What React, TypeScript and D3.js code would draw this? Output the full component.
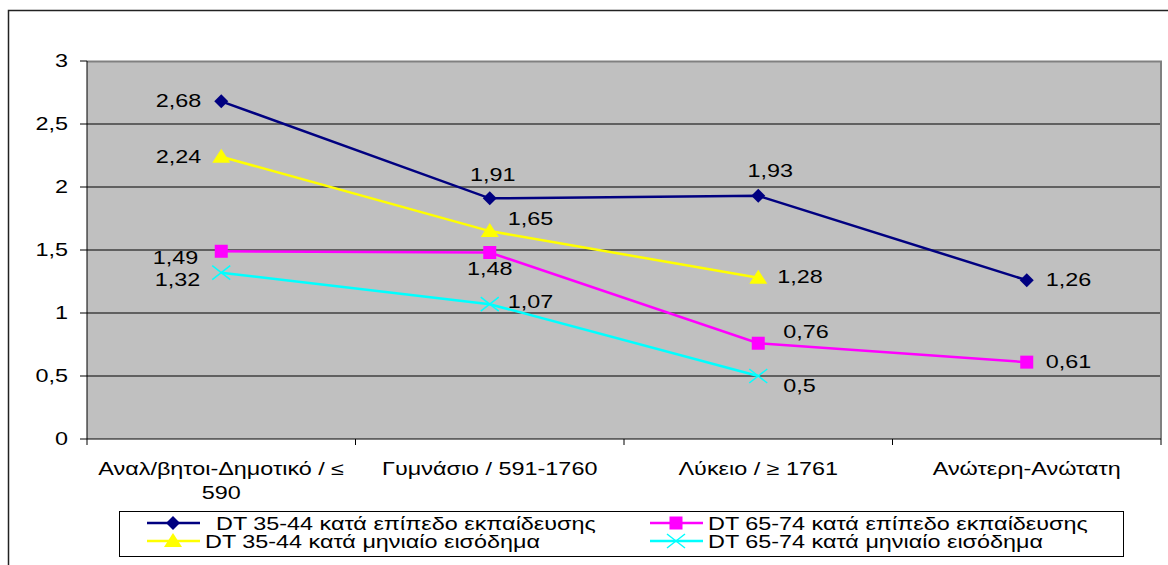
import React, { useEffect, useRef } from "react";
import * as d3 from "d3";

const categories = [
  ["Αναλ/βητοι-Δημοτικό / ≤", "590"],
  ["Γυμνάσιο / 591-1760"],
  ["Λύκειο / ≥ 1761"],
  ["Ανώτερη-Ανώτατη"],
];

const eduYoung = [2.68, 1.91, 1.93, 1.26];
const incYoung = [2.24, 1.65, 1.28, null];
const eduOld = [1.49, 1.48, 0.76, 0.61];
const incOld = [1.32, 1.07, 0.5, null];

const seriesNames = [
  "DT 35-44 κατά επίπεδο εκπαίδευσης",
  "DT 35-44 κατά μηνιαίο εισόδημα",
  "DT 65-74 κατά επίπεδο εκπαίδευσης",
  "DT 65-74 κατά μηνιαίο εισόδημα",
];

const yTicks = [0, 0.5, 1, 1.5, 2, 2.5, 3];

// label placement per point: [anchor, dx, dy]
type Place = [string, number, number];

const series = [
  {
    name: seriesNames[0], values: eduYoung, color: "#000080", marker: "diamond",
    places: [["end", -20, 6], ["middle", 3, -17], ["middle", 12, -19], ["start", 19, 6]] as Place[],
  },
  {
    name: seriesNames[1], values: incYoung, color: "#FFFF00", marker: "triangle",
    places: [["end", -20, 6], ["start", 18, -6], ["start", 19, 5], null] as (Place | null)[],
  },
  {
    name: seriesNames[2], values: eduOld, color: "#FF00FF", marker: "square",
    places: [["end", -23, 13], ["middle", 0, 22], ["start", 25, -5], ["start", 19, 6]] as Place[],
  },
  {
    name: seriesNames[3], values: incOld, color: "#00FFFF", marker: "x",
    places: [["end", -21, 13], ["start", 18, 4], ["start", 25, 16], null] as (Place | null)[],
  },
];

const fmt = (v: number) => String(v).replace(".", ",");
const FONT = "'Liberation Sans', Arial, sans-serif";
const STRETCH = 1.3;

function addText(g: any, x: number, y: number, txt: string, anchor = "start") {
  return g.append("text")
    .attr("transform", `translate(${x},${y}) scale(${STRETCH},1)`)
    .attr("text-anchor", anchor)
    .attr("font-family", FONT)
    .attr("font-size", 18)
    .attr("fill", "#000")
    .text(txt);
}

function drawMarker(g: any, type: string, x: number, y: number, color: string) {
  if (type === "diamond") {
    g.append("path").attr("d", `M${x},${y - 7}L${x + 7},${y}L${x},${y + 7}L${x - 7},${y}Z`).attr("fill", color);
  } else if (type === "square") {
    g.append("rect").attr("x", x - 6.5).attr("y", y - 6.5).attr("width", 13).attr("height", 13).attr("fill", color);
  } else if (type === "triangle") {
    g.append("path").attr("d", `M${x},${y - 8}L${x + 9},${y + 6}L${x - 9},${y + 6}Z`).attr("fill", color);
  } else {
    g.append("path").attr("d", `M${x - 9},${y - 7}L${x + 9},${y + 7}M${x - 9},${y + 7}L${x + 9},${y - 7}`)
      .attr("stroke", color).attr("stroke-width", 1.5).attr("fill", "none");
  }
}

export default function App() {
  const ref = useRef<SVGSVGElement>(null);

  useEffect(() => {
    const svg = d3.select(ref.current);
    svg.selectAll("*").remove();

    const left = 87, right = 1161, top = 61, bottom = 439;

    svg.append("rect").attr("width", 1168).attr("height", 565).attr("fill", "#fff");
    svg.append("rect").attr("x", 8.5).attr("y", 10.5).attr("width", 1200).attr("height", 600)
      .attr("fill", "none").attr("stroke", "#222").attr("stroke-width", 1.5);

    const x = d3.scaleBand().domain(categories.map((_, i) => String(i))).range([left, right]);
    const y = d3.scaleLinear().domain([0, 3]).range([bottom, top]);
    const cx = (i: number) => (x(String(i)) as number) + x.bandwidth() / 2;

    svg.append("rect").attr("x", left).attr("y", top).attr("width", right - left).attr("height", bottom - top)
      .attr("fill", "#C0C0C0");

    // grid
    svg.append("g").selectAll("line").data(yTicks.slice(1, -1)).join("line")
      .attr("x1", left).attr("x2", right).attr("y1", (d) => y(d)).attr("y2", (d) => y(d))
      .attr("stroke", "#000").attr("stroke-width", 1);
    // top and right border grey
    svg.append("path").attr("d", `M${left},${top + 0.5}H${right}V${bottom}`)
      .attr("fill", "none").attr("stroke", "#808080").attr("stroke-width", 2);

    // y axis
    const yAxis = svg.append("g");
    yAxis.append("line").attr("x1", left).attr("x2", left).attr("y1", top).attr("y2", bottom).attr("stroke", "#000");
    yAxis.selectAll("line.t").data(yTicks).join("line").attr("class", "t")
      .attr("x1", left - 7).attr("x2", left).attr("y1", (d) => y(d)).attr("y2", (d) => y(d)).attr("stroke", "#000");
    yTicks.forEach((t) => addText(yAxis, left - 19, y(t) + 6, fmt(t), "end"));

    // x axis
    const xAxis = svg.append("g");
    xAxis.append("line").attr("x1", left).attr("x2", right).attr("y1", bottom).attr("y2", bottom).attr("stroke", "#000");
    const bounds = categories.map((_, i) => x(String(i)) as number).concat([right]);
    xAxis.selectAll("line.t").data(bounds).join("line").attr("class", "t")
      .attr("x1", (d) => d).attr("x2", (d) => d).attr("y1", bottom).attr("y2", bottom + 6).attr("stroke", "#000");
    categories.forEach((lines, i) => {
      lines.forEach((ln, j) => addText(xAxis, cx(i), bottom + 36 + j * 24, ln, "middle"));
    });

    series.forEach((s) => {
      const pts = s.values.map((v, i) => ({ v, i })).filter((d) => d.v !== null) as { v: number; i: number }[];
      const line = d3.line<{ v: number; i: number }>().x((d) => cx(d.i)).y((d) => y(d.v));
      svg.append("path").attr("d", line(pts)).attr("fill", "none").attr("stroke", s.color).attr("stroke-width", 2.5);
    });
    series.forEach((s) => {
      const g = svg.append("g");
      s.values.forEach((v, i) => {
        if (v === null) return;
        drawMarker(g, s.marker, cx(i), y(v), s.color);
      });
    });
    const labels = svg.append("g");
    series.forEach((s) => {
      s.values.forEach((v, i) => {
        const p = s.places[i];
        if (v === null || !p) return;
        addText(labels, cx(i) + p[1], y(v) + p[2], fmt(v), p[0]);
      });
    });

    // legend
    const lg = svg.append("g");
    lg.append("rect").attr("x", 119.5).attr("y", 511.5).attr("width", 1004).attr("height", 45)
      .attr("fill", "#fff").attr("stroke", "#000").attr("stroke-width", 1);
    const legendPos = [
      { s: series[0], lx: 147, ly: 523, tx: 216 },
      { s: series[1], lx: 147, ly: 541, tx: 205 },
      { s: series[2], lx: 650, ly: 523, tx: 708 },
      { s: series[3], lx: 650, ly: 541, tx: 708 },
    ];
    legendPos.forEach(({ s, lx, ly, tx }) => {
      lg.append("line").attr("x1", lx).attr("x2", lx + 53).attr("y1", ly).attr("y2", ly)
        .attr("stroke", s.color).attr("stroke-width", 2.5);
      drawMarker(lg, s.marker, lx + 26, ly, s.color);
      addText(lg, tx, ly + 7, s.name);
    });
  }, []);

  return (
    <div style={{ position: "fixed", left: 0, top: 0 }}>
      <svg ref={ref} width={1168} height={565} style={{ display: "block" }} />
    </div>
  );
}
